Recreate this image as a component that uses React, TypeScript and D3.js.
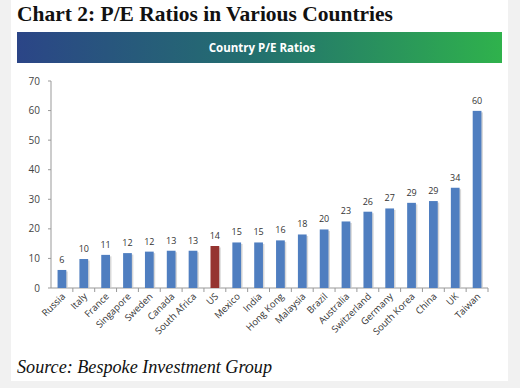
import React from "react"
import * as d3 from "d3"

const countries = ["Russia", "Italy", "France", "Singapore", "Sweden", "Canada", "South Africa", "US", "Mexico", "India", "Hong Kong", "Malaysia", "Brazil", "Australia", "Switzerland", "Germany", "South Korea", "China", "UK", "Taiwan"]
const peValues = [6.1, 9.8, 11.2, 11.8, 12.3, 12.6, 12.6, 14.2, 15.4, 15.4, 16.1, 18.1, 19.8, 22.5, 25.8, 26.9, 28.8, 29.4, 33.9, 59.9]
const yTicks = [0, 10, 20, 30, 40, 50, 60, 70]
const highlight = "US"

export default function App() {
  const W = 520, H = 388
  const x = d3.scaleBand().domain(countries).range([51, 488]).paddingInner(0.6).paddingOuter(0.3)
  const xTicks = d3.scaleBand().domain(countries).range([51, 488])
  const y = d3.scaleLinear().domain([0, 70]).range([288, 81])

  return (
    <svg width={W} height={H} style={{ position: "absolute", left: 0, top: 0 }}>
      <defs>
        <linearGradient id="banner" x1="0" x2="1" y1="0" y2="0">
          <stop offset="0" stopColor="#2b4587" />
          <stop offset="0.5" stopColor="#23716e" />
          <stop offset="1" stopColor="#2fb24c" />
        </linearGradient>
      </defs>
      <rect width={W} height={H} fill="#f1f1f1" />
      <rect x={11} y={0} width={497} height={381} fill="#fff" />
      <text x={17} y={21} fontFamily="Liberation Serif" fontWeight="bold" fontSize={21.5} fill="#111" textLength={376} lengthAdjust="spacingAndGlyphs">
        Chart 2: P/E Ratios in Various Countries
      </text>
      <rect x={17} y={32} width={485} height={31} fill="url(#banner)" />
      <text x={262} y={52} textAnchor="middle" fontFamily="Open Sans" fontWeight="bold" fontSize={11.5} fill="#fff">
        Country P/E Ratios
      </text>

      {/* y axis */}
      <line x1={51} x2={51} y1={y(70)} y2={y(0)} stroke="#999" />
      {yTicks.map(t => (
        <g key={t}>
          <line x1={48} x2={51} y1={y(t)} y2={y(t)} stroke="#999" />
          <text x={40} y={y(t) + 3.5} textAnchor="end" fontFamily="Open Sans" fontSize={10} fill="#444">{t}</text>
        </g>
      ))}

      {/* x axis */}
      <line x1={51} x2={488} y1={y(0)} y2={y(0)} stroke="#999" />
      {countries.map(c => (
        <line key={c} x1={xTicks(c)! + xTicks.bandwidth()} x2={xTicks(c)! + xTicks.bandwidth()} y1={y(0)} y2={y(0) + 4} stroke="#999" />
      ))}

      {/* bars */}
      {countries.map((c, i) => {
        const v = peValues[i]
        const bx = x(c)!
        const bw = x.bandwidth()
        return (
          <g key={c}>
            <rect x={bx + 1.5} y={y(v) + 1.5} width={bw} height={y(0) - y(v) - 1.5} fill="#c8c8c8" opacity={0.7} />
            <rect x={bx} y={y(v)} width={bw} height={y(0) - y(v)} fill={c === highlight ? "#953430" : "#4f7ec0"} />
            <text x={bx + bw / 2} y={y(v) - 7} textAnchor="middle" fontFamily="Open Sans" fontSize={9} fill="#333">
              {Math.round(v)}
            </text>
            <text transform={`translate(${bx + bw / 2 + 4},${y(0) + 9}) rotate(-45)`} textAnchor="end" fontFamily="Open Sans" fontSize={9.5} fill="#333">
              {c}
            </text>
          </g>
        )
      })}

      <text x={17} y={373} fontFamily="Liberation Serif" fontStyle="italic" fontSize={18} fill="#111" textLength={255} lengthAdjust="spacingAndGlyphs">
        Source: Bespoke Investment Group
      </text>
    </svg>
  )
}
